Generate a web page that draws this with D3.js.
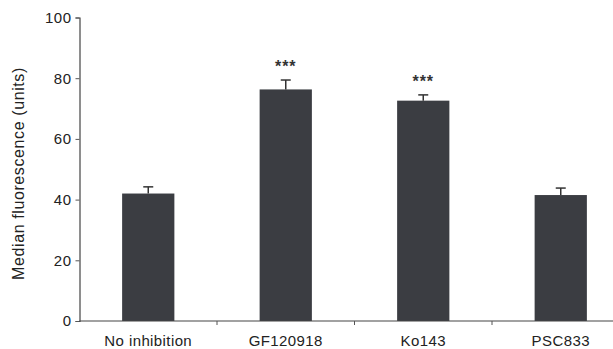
<!DOCTYPE html>
<html>
<head>
<meta charset="utf-8">
<script src="https://cdn.jsdelivr.net/npm/d3@7"></script>
<style>
  body { margin: 0; background: #fff; }
  text { font-family: "Liberation Sans", Arial, sans-serif; fill: #222; }
</style>
</head>
<body>
<script>
const categories = ['No inhibition', 'GF120918', 'Ko143', 'PSC833'];
const medians = [42, 76.3, 72.6, 41.5];
const errors = [2.2, 3.1, 1.9, 2.3];
const marks = ['', '***', '***', ''];
const yTicks = [0, 20, 40, 60, 80, 100];

const DIM = { width: 613, height: 349, left: 79.5, right: -16.5, top: 17.5, bottom: 28 };
DIM.innerWidth = DIM.width - DIM.left - DIM.right;
DIM.innerHeight = DIM.height - DIM.top - DIM.bottom;

const svg = d3.select('body').append('svg')
    .attr('width', DIM.width)
    .attr('height', DIM.height);

const canvas = svg.append('g')
    .attr('transform', `translate(${DIM.left},${DIM.top})`);

const x = d3.scaleBand()
    .domain(categories)
    .range([0, DIM.innerWidth])
    .paddingInner(0.62)
    .paddingOuter(0.31);

const y = d3.scaleLinear()
    .domain([0, 100])
    .range([DIM.innerHeight, 0]);

const data = categories.map((c, i) => ({ name: c, value: medians[i], err: errors[i], mark: marks[i] }));

// bars
canvas.selectAll('rect.bar').data(data)
    .enter().append('rect')
    .attr('class', 'bar')
    .attr('x', d => x(d.name))
    .attr('y', d => y(d.value))
    .attr('width', x.bandwidth())
    .attr('height', d => y(0) - y(d.value))
    .attr('fill', '#3b3d42');

// error bars (upper only)
const eb = canvas.selectAll('g.err').data(data).enter().append('g').attr('class', 'err');
eb.append('line')
    .attr('x1', d => x(d.name) + x.bandwidth() / 2)
    .attr('x2', d => x(d.name) + x.bandwidth() / 2)
    .attr('y1', d => y(d.value))
    .attr('y2', d => y(d.value + d.err))
    .attr('stroke', '#333').attr('stroke-width', 1.5);
eb.append('line')
    .attr('x1', d => x(d.name) + x.bandwidth() / 2 - 5)
    .attr('x2', d => x(d.name) + x.bandwidth() / 2 + 5)
    .attr('y1', d => y(d.value + d.err))
    .attr('y2', d => y(d.value + d.err))
    .attr('stroke', '#333').attr('stroke-width', 1.5);

// significance stars
canvas.selectAll('text.mark').data(data)
    .enter().append('text')
    .attr('class', 'mark')
    .attr('x', d => x(d.name) + x.bandwidth() / 2)
    .attr('y', d => y(d.value + d.err) - 8)
    .attr('text-anchor', 'middle')
    .style('font-size', '16px')
    .style('font-weight', 'bold')
    .style('letter-spacing', '1px')
    .style('fill', '#333')
    .text(d => d.mark);

// x axis with ticks at band boundaries
const xAxisGroup = canvas.append('g')
    .attr('transform', `translate(0,${DIM.innerHeight})`);
xAxisGroup.append('line')
    .attr('x1', 0).attr('x2', DIM.width - DIM.left)
    .attr('stroke', '#444').attr('stroke-width', 1.2);
xAxisGroup.selectAll('line.btick').data(categories.slice(1))
    .enter().append('line')
    .attr('class', 'btick')
    .attr('x1', d => x(d) - x.step() * x.paddingInner() / 2)
    .attr('x2', d => x(d) - x.step() * x.paddingInner() / 2)
    .attr('y1', 0).attr('y2', 4)
    .attr('stroke', '#555');
xAxisGroup.selectAll('text.xl').data(categories)
    .enter().append('text')
    .attr('class', 'xl')
    .attr('x', d => x(d) + x.bandwidth() / 2)
    .attr('y', 25)
    .attr('text-anchor', 'middle')
    .style('font-size', '15px')
    .style('letter-spacing', '0.4px')
    .text(d => d);

// y axis
const yAxisGroup = canvas.append('g');
yAxisGroup.call(d3.axisLeft(y).tickValues(yTicks).tickSize(4).tickPadding(4));
yAxisGroup.select('.domain').attr('stroke', '#444').attr('stroke-width', 1.2);
yAxisGroup.selectAll('.tick line').attr('stroke', '#555');
yAxisGroup.selectAll('.tick text')
    .style('font-size', '15px')
    .style('letter-spacing', '0.5px')
    .style('font-family', '"Liberation Sans", Arial, sans-serif')
    .attr('fill', '#222');

yAxisGroup.append('text')
    .attr('transform', 'rotate(-90)')
    .attr('x', -156)
    .attr('y', -DIM.left + 24)
    .attr('text-anchor', 'middle')
    .style('font-size', '16px')
    .style('letter-spacing', '0.6px')
    .text('Median fluorescence (units)');
</script>
</body>
</html>
